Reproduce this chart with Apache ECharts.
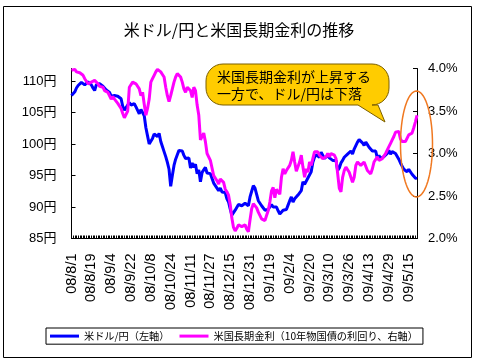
<!DOCTYPE html>
<html><head><meta charset="utf-8">
<script src="https://cdn.jsdelivr.net/npm/echarts@6/dist/echarts.min.js"></script>
<style>html,body{margin:0;padding:0;background:#fff}#c{width:478px;height:362px}</style>
</head><body><div id="c"></div>
<script>
const dates = [
"08/8/1","08/8/4","08/8/5","08/8/6","08/8/7","08/8/8","08/8/11","08/8/12","08/8/13","08/8/14","08/8/15","08/8/18","08/8/19","08/8/20","08/8/21","08/8/22","08/8/25","08/8/26","08/8/27","08/8/28","08/8/29",
"08/9/1","08/9/2","08/9/3","08/9/4","08/9/5","08/9/8","08/9/9","08/9/10","08/9/11","08/9/12","08/9/15","08/9/16","08/9/17","08/9/18","08/9/19","08/9/22","08/9/23","08/9/24","08/9/25","08/9/26","08/9/29","08/9/30",
"08/10/1","08/10/2","08/10/3","08/10/6","08/10/7","08/10/8","08/10/9","08/10/10","08/10/13","08/10/14","08/10/15","08/10/16","08/10/17","08/10/20","08/10/21","08/10/22","08/10/23","08/10/24","08/10/27","08/10/28","08/10/29","08/10/30","08/10/31",
"08/11/3","08/11/4","08/11/5","08/11/6","08/11/7","08/11/10","08/11/11","08/11/12","08/11/13","08/11/14","08/11/17","08/11/18","08/11/19","08/11/20","08/11/21","08/11/24","08/11/25","08/11/26","08/11/27","08/11/28",
"08/12/1","08/12/2","08/12/3","08/12/4","08/12/5","08/12/8","08/12/9","08/12/10","08/12/11","08/12/12","08/12/15","08/12/16","08/12/17","08/12/18","08/12/19","08/12/22","08/12/23","08/12/24","08/12/25","08/12/26","08/12/29","08/12/30","08/12/31",
"09/1/2","09/1/5","09/1/6","09/1/7","09/1/8","09/1/9","09/1/12","09/1/13","09/1/14","09/1/15","09/1/16","09/1/19","09/1/20","09/1/21","09/1/22","09/1/23","09/1/26","09/1/27","09/1/28","09/1/29","09/1/30",
"09/2/2","09/2/3","09/2/4","09/2/5","09/2/6","09/2/9","09/2/10","09/2/11","09/2/12","09/2/13","09/2/16","09/2/17","09/2/18","09/2/19","09/2/20","09/2/23","09/2/24","09/2/25","09/2/26","09/2/27",
"09/3/2","09/3/3","09/3/4","09/3/5","09/3/6","09/3/9","09/3/10","09/3/11","09/3/12","09/3/13","09/3/16","09/3/17","09/3/18","09/3/19","09/3/20","09/3/23","09/3/24","09/3/25","09/3/26","09/3/27","09/3/30","09/3/31",
"09/4/1","09/4/2","09/4/3","09/4/6","09/4/7","09/4/8","09/4/9","09/4/10","09/4/13","09/4/14","09/4/15","09/4/16","09/4/17","09/4/20","09/4/21","09/4/22","09/4/23","09/4/24","09/4/27","09/4/28","09/4/29","09/4/30",
"09/5/1","09/5/4","09/5/5","09/5/6","09/5/7","09/5/8","09/5/11","09/5/12","09/5/13","09/5/14","09/5/15","09/5/18","09/5/19","09/5/20","09/5/21","09/5/22"
];
const usdJpy = [
107.7,107.9,108.3,108.9,109.3,109.6,109.8,109.6,109.4,109.5,109.9,109.7,109.4,108.9,108.5,109.4,109.3,109.6,109.4,109.2,108.9,
108.6,108.4,108.2,107.6,107.9,107.7,108.0,107.6,107.3,107.2,106.0,105.4,105.8,106.1,106.6,106.2,106.0,106.4,105.9,106.0,104.8,105.5,
105.3,104.5,102.6,101.3,100.0,100.2,100.9,101.6,101.9,101.2,101.7,100.4,99.6,98.8,98.0,97.1,96.0,93.3,95.0,96.6,97.6,98.3,99.0,
98.7,98.9,98.2,97.7,98.0,97.8,96.2,97.0,96.3,96.8,95.3,95.9,94.0,95.5,95.2,96.3,95.4,95.5,95.3,95.4,
93.8,93.5,93.0,92.6,93.0,92.4,92.1,92.3,91.3,90.8,89.7,88.7,88.6,89.5,89.7,90.4,90.5,90.2,90.3,90.6,90.4,90.2,91.6,
92.5,93.4,93.0,92.0,91.0,90.6,90.2,89.9,89.5,89.8,89.6,89.3,90.4,90.0,90.3,90.0,89.4,88.9,89.1,89.5,89.8,
89.6,90.3,91.0,91.6,90.8,91.3,91.1,91.9,92.2,92.6,94.0,93.6,93.3,94.6,94.8,95.6,97.1,97.9,98.3,98.5,
97.9,98.7,98.4,97.7,98.0,98.2,97.8,97.9,97.4,97.1,97.4,95.8,96.2,97.0,97.4,97.9,98.0,98.4,98.7,98.9,98.4,99.2,
99.5,100.3,100.7,100.9,100.2,99.8,100.3,99.9,99.5,99.2,98.9,98.7,98.9,97.8,98.2,97.7,97.9,98.0,98.2,98.5,99.0,98.4,
98.8,98.7,98.5,98.3,97.6,97.0,96.5,96.0,96.1,95.6,96.0,95.8,95.2,95.0,94.6,94.5
];
const usYield = [
3.98,3.97,3.99,3.96,3.94,3.95,3.96,3.92,3.88,3.85,3.82,3.81,3.84,3.83,3.86,3.84,3.82,3.79,3.80,3.78,3.74,
3.76,3.72,3.70,3.64,3.67,3.64,3.66,3.59,3.57,3.53,3.47,3.42,3.41,3.50,3.78,3.80,3.84,3.85,3.82,3.81,3.76,3.68,
3.72,3.58,3.45,3.53,3.64,3.84,3.88,3.92,3.96,3.99,3.97,3.96,3.93,3.90,3.78,3.68,3.61,3.68,3.76,3.84,3.90,3.94,3.96,
3.90,3.84,3.76,3.72,3.78,3.76,3.74,3.66,3.78,3.74,3.57,3.45,3.16,3.20,3.24,3.14,3.00,3.02,2.92,2.90,
2.74,2.73,2.68,2.64,2.70,2.71,2.66,2.58,2.55,2.51,2.40,2.24,2.13,2.09,2.12,2.16,2.15,2.14,2.15,2.16,2.11,2.08,2.22,
2.35,2.41,2.39,2.36,2.31,2.29,2.23,2.24,2.21,2.27,2.33,2.43,2.56,2.60,2.48,2.58,2.56,2.52,2.72,2.82,2.76,
2.80,2.78,2.86,2.92,3.02,2.90,2.79,2.78,2.90,2.98,2.84,2.72,2.82,2.78,2.90,2.86,2.94,3.02,3.00,3.02,
2.98,3.00,2.94,2.92,2.96,3.00,2.96,3.00,3.01,2.98,2.94,2.92,2.59,2.55,2.72,2.80,2.84,2.82,2.78,2.72,2.66,2.72,
2.86,2.90,2.92,2.86,2.88,2.90,2.88,2.80,2.80,2.76,2.82,2.90,2.88,2.96,2.92,2.90,2.94,2.96,3.00,3.02,3.08,3.12,
3.16,3.20,3.25,3.27,3.26,3.17,3.14,3.12,3.14,3.16,3.22,3.20,3.24,3.30,3.37,3.45
];
const seriesNames = ["米ドル/円（左軸）", "米国長期金利（10年物国債の利回り、右軸）"];
const titleText = "米ドル/円と米国長期金利の推移";
const calloutLines = ["米国長期金利が上昇する", "一方で、ドル/円は下落"];

// annotation shapes (decorations, not data marks)
function arcPts(cx, cy, rx, ry, a0, a1, n) {
  const p = [];
  for (let k = 0; k <= n; k++) {
    const a = a0 + (a1 - a0) * k / n;
    p.push([cx + rx * Math.cos(a), cy + ry * Math.sin(a)]);
  }
  return p;
}
function calloutShape(x0, y0, x1, y1, r, tailL, tailR, tip) {
  const P = Math.PI;
  let pts = [];
  pts = pts.concat(arcPts(x0 + r, y0 + r, r, r, P, 1.5 * P, 8));
  pts = pts.concat(arcPts(x1 - r, y0 + r, r, r, 1.5 * P, 2 * P, 8));
  pts = pts.concat(arcPts(x1 - r, y1 - r, r, r, 0, 0.5 * P, 8));
  pts.push([tailR, y1], tip, [tailL, y1]);
  pts = pts.concat(arcPts(x0 + r, y1 - r, r, r, 0.5 * P, P, 8));
  return pts;
}
const bubblePts = calloutShape(206, 64, 389, 105, 17, 358, 378, [385, 122]);
const ellipsePts = arcPts(416.5, 144, 16, 53, 0, 2 * Math.PI, 72);

const JP = "'Noto Sans CJK JP', sans-serif";
const NUM = "'Liberation Sans', 'Noto Sans CJK JP', sans-serif";
const chart = echarts.init(document.getElementById('c'), null, {renderer: 'canvas'});
chart.setOption({
  animation: false,
  backgroundColor: '#fff',
  title: {
    text: titleText, left: 'center', top: 17,
    textStyle: {fontSize: 16, fontWeight: 'normal', color: '#000', fontFamily: JP}
  },
  grid: {left: 71.5, right: 61, top: 68.5, bottom: 123.5, containLabel: false},
  legend: {
    data: seriesNames, left: 46, top: 328,
    icon: 'rect', itemWidth: 29, itemHeight: 3, itemGap: 10,
    borderColor: '#000', borderWidth: 1, padding: [3, 5, 3, 4],
    textStyle: {fontSize: 10.2, color: '#000', fontFamily: JP}
  },
  xAxis: {
    type: 'category', data: dates, boundaryGap: false,
    axisLine: {lineStyle: {color: '#000', width: 1}},
    axisTick: {inside: true, length: 3, interval: 0, lineStyle: {color: '#000'}},
    axisLabel: {interval: 11, rotate: 90, margin: 15, fontSize: 14.5, color: '#000', fontFamily: NUM},
    splitLine: {show: false}
  },
  yAxis: [{
    type: 'value', min: 85, max: 112, interval: 5, position: 'left',
    axisLine: {show: true, lineStyle: {color: '#000'}},
    axisTick: {show: true, inside: true, length: 4, lineStyle: {color: '#000'}},
    axisLabel: {formatter: v => v + '円', showMaxLabel: false, margin: 15, fontSize: 13, color: '#000', fontFamily: NUM},
    splitLine: {show: false}
  }, {
    type: 'value', min: 2, max: 4, interval: 0.5, position: 'right',
    axisLine: {show: true, lineStyle: {color: '#000'}},
    axisTick: {show: true, inside: true, length: 4, lineStyle: {color: '#000'}},
    axisLabel: {formatter: v => v.toFixed(1) + '%', margin: 11, fontSize: 13, color: '#000', fontFamily: NUM},
    splitLine: {show: false}
  }],
  series: [{
    name: seriesNames[0], type: 'line', data: usdJpy, yAxisIndex: 0,
    showSymbol: false, lineStyle: {color: '#0000FF', width: 3}, itemStyle: {color: '#0000FF'}
  }, {
    name: seriesNames[1], type: 'line', data: usYield, yAxisIndex: 1,
    showSymbol: false, lineStyle: {color: '#FF00FF', width: 3}, itemStyle: {color: '#FF00FF'}
  }],
  graphic: [
    {type: 'rect', silent: true, z: 0, shape: {x: 3.5, y: 6.5, width: 468, height: 351},
     style: {fill: 'none', stroke: '#000', lineWidth: 1}},
    {type: 'polygon', z: 100, silent: true, shape: {points: bubblePts},
     style: {fill: '#FFCC00', stroke: '#7A5E00', lineWidth: 1}},
    {type: 'text', z: 101, silent: true, x: 217, y: 77,
     style: {text: calloutLines[0], fill: '#000', font: "14px 'Noto Sans CJK JP'", verticalAlign: 'middle'}},
    {type: 'text', z: 101, silent: true, x: 217, y: 94,
     style: {text: calloutLines[1], fill: '#000', font: "14px 'Noto Sans CJK JP'", verticalAlign: 'middle'}},
    {type: 'polygon', z: 100, silent: true, shape: {points: ellipsePts},
     style: {fill: 'none', stroke: '#F07820', lineWidth: 1.5}}
  ]
});
</script></body></html>
